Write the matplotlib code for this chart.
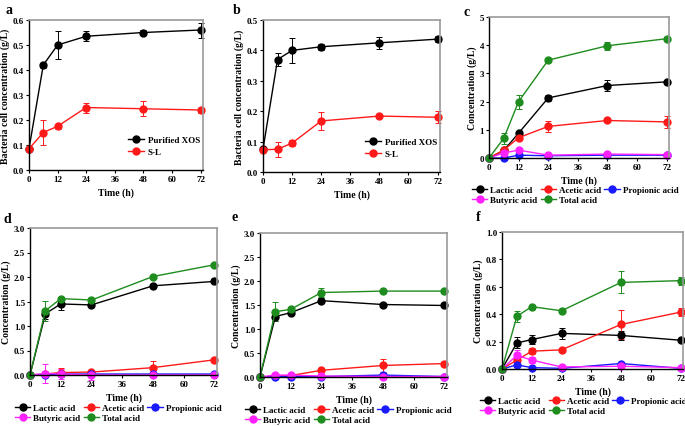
import matplotlib
matplotlib.use('Agg')
import matplotlib.pyplot as plt
from matplotlib.lines import Line2D

plt.rcParams['font.family'] = ['Liberation Serif', 'DejaVu Serif']
plt.rcParams['font.weight'] = 'bold'

t = [0, 6, 12, 24, 48, 72]

# panel a / b : bacteria cell concentration
a_xos = [0.085, 0.42, 0.50, 0.535, 0.55, 0.56]
a_xos_err = [0.005, 0.01, 0.055, 0.02, 0.01, 0.03]
a_sl = [0.085, 0.15, 0.175, 0.25, 0.245, 0.24]
a_sl_err = [0.005, 0.05, 0.01, 0.02, 0.03, 0.01]

b_xos = [0.075, 0.37, 0.40, 0.412, 0.425, 0.437]
b_xos_err = [0.005, 0.02, 0.04, 0.01, 0.02, 0.01]
b_sl = [0.073, 0.075, 0.095, 0.168, 0.184, 0.18]
b_sl_err = [0.005, 0.025, 0.01, 0.03, 0.008, 0.02]

# panels c-f : acids (lactic, acetic, propionic, butyric, total)
c_lac = [0, 0.27, 0.88, 2.13, 2.57, 2.70]
c_lac_err = [0, 0.05, 0.05, 0.12, 0.2, 0.08]
c_ace = [0, 0.28, 0.72, 1.12, 1.33, 1.28]
c_ace_err = [0, 0.05, 0.05, 0.2, 0.05, 0.2]
c_pro = [0, 0.0, 0.1, 0.08, 0.1, 0.1]
c_pro_err = [0, 0.01, 0.02, 0.02, 0.02, 0.02]
c_but = [0, 0.18, 0.28, 0.1, 0.14, 0.12]
c_but_err = [0, 0.03, 0.05, 0.03, 0.02, 0.02]
c_tot = [0, 0.7, 2.0, 3.47, 3.98, 4.23]
c_tot_err = [0, 0.2, 0.25, 0.05, 0.15, 0.05]

d_lac = [0, 1.25, 1.45, 1.43, 1.82, 1.91]
d_lac_err = [0, 0.1, 0.13, 0.03, 0.03, 0.03]
d_ace = [0, 0.02, 0.05, 0.06, 0.15, 0.31]
d_ace_err = [0, 0.02, 0.1, 0.05, 0.14, 0.03]
d_pro = [0, 0.01, 0.02, 0.02, 0.02, 0.02]
d_pro_err = [0, 0.005, 0.005, 0.005, 0.005, 0.005]
d_but = [0, 0.03, 0.02, 0.0, 0.0, 0.0]
d_but_err = [0, 0.2, 0.1, 0.1, 0.02, 0.0]
d_tot = [0, 1.31, 1.56, 1.53, 2.01, 2.25]
d_tot_err = [0, 0.2, 0.03, 0.03, 0.03, 0.03]

e_lac = [0, 1.26, 1.34, 1.59, 1.51, 1.49]
e_lac_err = [0, 0.1, 0.03, 0.05, 0.02, 0.02]
e_ace = [0, 0.02, 0.03, 0.14, 0.24, 0.28]
e_ace_err = [0, 0.01, 0.01, 0.03, 0.14, 0.03]
e_pro = [0, 0.01, 0.01, 0.01, 0.04, 0.01]
e_pro_err = [0, 0.005, 0.005, 0.005, 0.01, 0.005]
e_but = [0, 0.04, 0.04, 0.02, 0.01, 0.01]
e_but_err = [0, 0.01, 0.01, 0.01, 0.005, 0.005]
e_tot = [0, 1.36, 1.41, 1.76, 1.79, 1.79]
e_tot_err = [0, 0.2, 0.03, 0.1, 0.02, 0.02]

f_lac = [0, 0.19, 0.215, 0.26, 0.245, 0.21]
f_lac_err = [0, 0.04, 0.03, 0.04, 0.03, 0.01]
f_ace = [0, 0.065, 0.13, 0.14, 0.325, 0.415]
f_ace_err = [0, 0.02, 0.02, 0.01, 0.105, 0.03]
f_pro = [0, 0.03, 0.01, 0.005, 0.04, 0.005]
f_pro_err = [0, 0.005, 0.005, 0.003, 0.005, 0.003]
f_but = [0, 0.1, 0.065, 0.015, 0.02, 0.01]
f_but_err = [0, 0.04, 0.02, 0.005, 0.005, 0.005]
f_tot = [0, 0.385, 0.455, 0.425, 0.632, 0.645]
f_tot_err = [0, 0.04, 0.015, 0.01, 0.08, 0.03]

acid_names = ['Lactic acid', 'Acetic acid', 'Propionic acid', 'Butyric acid', 'Total acid']
acid_colors = ['black', '#ff1a1a', '#1a1aff', '#ff22ff', '#1e8c1e']

W, H = 685, 427
fig = plt.figure(figsize=(W / 100, H / 100), dpi=100)
FS = 6.5


def make_ax(l, r, top, bot):
    return fig.add_axes([l / W, 1 - bot / H, (r - l) / W, (bot - top) / H])


def style(ax, ymax, yticks, fmt, ylabel):
    ax.set_xlim(0, 73)
    ax.set_ylim(0, ymax)
    ax.set_xticks([0, 12, 24, 36, 48, 60, 72])
    ax.set_yticks(yticks)
    ax.set_yticklabels([fmt.format(v) for v in yticks])
    ax.tick_params(labelsize=FS, length=2, width=0.8, pad=1.5)
    for s in ['top', 'right']:
        ax.spines[s].set_color('#999999')
        ax.spines[s].set_linewidth(1.2)
    for s in ['left', 'bottom']:
        ax.spines[s].set_linewidth(1.0)
    ax.set_xlabel('Time (h)', fontsize=FS + 0.5, fontweight='bold', labelpad=3)
    ax.set_ylabel(ylabel, fontsize=FS + 0.5, fontweight='bold', labelpad=2)


def series(ax, y, err, color):
    ax.errorbar(t, y, yerr=err, color=color, marker='o', markersize=5,
                mfc=color, mec=color, lw=1.0, elinewidth=0.7, capsize=2,
                capthick=0.7, clip_on=False)


def handle(color):
    return Line2D([], [], color=color, lw=1.0, marker='o', markersize=5, mfc=color, mec=color)


# a
ax = make_ax(29, 203, 21, 171)
series(ax, a_xos, a_xos_err, 'black')
series(ax, a_sl, a_sl_err, '#ff1a1a')
style(ax, 0.6, [0.0, 0.1, 0.2, 0.3, 0.4, 0.5, 0.6], '{:.1f}', 'Bacteria cell concentration (g/L)')
ax.legend([handle('black'), handle('#ff1a1a')], ['Purified XOS', 'S-L'],
          loc='lower right', bbox_to_anchor=(1.03, 0.04), frameon=False, fontsize=FS,
          handlelength=1.8, labelspacing=0.35, handletextpad=0.4)
fig.text(5 / W, 1 - 10 / H, 'a', fontsize=10, fontweight='bold', va='center')

# b
ax = make_ax(263, 440, 21, 173)
series(ax, b_xos, b_xos_err, 'black')
series(ax, b_sl, b_sl_err, '#ff1a1a')
style(ax, 0.5, [0.0, 0.1, 0.2, 0.3, 0.4, 0.5], '{:.1f}', 'Bacteria cell concentration (g/L)')
ax.legend([handle('black'), handle('#ff1a1a')], ['Purified XOS', 'S-L'],
          loc='lower right', bbox_to_anchor=(1.03, 0.04), frameon=False, fontsize=FS,
          handlelength=1.8, labelspacing=0.35, handletextpad=0.4)
fig.text(233 / W, 1 - 10 / H, 'b', fontsize=10, fontweight='bold', va='center')

acid_panels = [
    ('c', (489, 669, 18, 159), 5, [0, 1, 2, 3, 4, 5], '{:.0f}',
     [c_lac, c_ace, c_pro, c_but, c_tot], [c_lac_err, c_ace_err, c_pro_err, c_but_err, c_tot_err],
     (463, 12), (575, 196)),
    ('d', (30, 217, 229, 376), 3.0, [0.0, 0.5, 1.0, 1.5, 2.0, 2.5, 3.0], '{:.1f}',
     [d_lac, d_ace, d_pro, d_but, d_tot], [d_lac_err, d_ace_err, d_pro_err, d_but_err, d_tot_err],
     (3, 220), (118, 414)),
    ('e', (260, 447, 234, 378), 3.0, [0.0, 0.5, 1.0, 1.5, 2.0, 2.5, 3.0], '{:.1f}',
     [e_lac, e_ace, e_pro, e_but, e_tot], [e_lac_err, e_ace_err, e_pro_err, e_but_err, e_tot_err],
     (232, 218), (348, 416)),
    ('f', (502, 683, 233, 370), 1.0, [0.0, 0.2, 0.4, 0.6, 0.8, 1.0], '{:.1f}',
     [f_lac, f_ace, f_pro, f_but, f_tot], [f_lac_err, f_ace_err, f_pro_err, f_but_err, f_tot_err],
     (476, 218), (583, 407)),
]

for letter, box, ymax, yt, fmt, ys, errs, lpos, legpos in acid_panels:
    ax = make_ax(*box)
    for y, e, c in zip(ys, errs, acid_colors):
        series(ax, y, e, c)
    style(ax, ymax, yt, fmt, 'Concentration (g/L)')
    order = [0, 3, 1, 4, 2]
    fig.legend([handle(acid_colors[i]) for i in order], [acid_names[i] for i in order],
               loc='center', bbox_to_anchor=(legpos[0] / W, 1 - legpos[1] / H),
               ncol=3, frameon=False, fontsize=FS, handlelength=1.7, columnspacing=0.4,
               labelspacing=0.2, handletextpad=0.3, borderpad=0)
    fig.text(lpos[0] / W, 1 - lpos[1] / H, letter, fontsize=10, fontweight='bold', va='center')

fig.savefig('out.png', dpi=100)
